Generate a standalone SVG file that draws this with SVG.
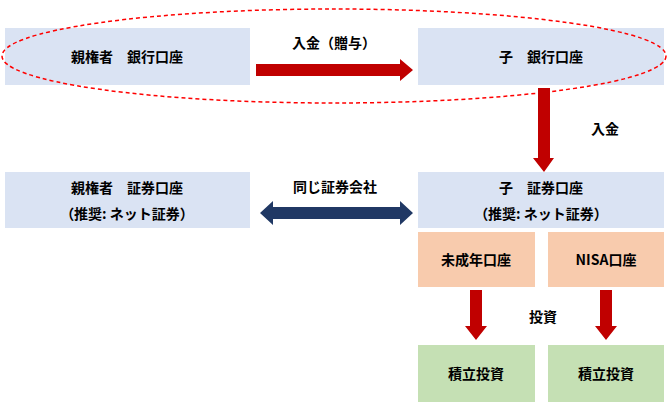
<svg xmlns="http://www.w3.org/2000/svg" width="670" height="407" viewBox="0 0 670 407">
<style>
text{font-family:"Noto Sans CJK JP","Noto Sans",sans-serif;font-size:14px;font-weight:bold;fill:#000;text-anchor:middle;dominant-baseline:central}
.b{fill:#DAE3F3}.o{fill:#F8CBAD}.g{fill:#C5E0B4}
.r{fill:#C00000}.n{fill:#203864}
</style>
<rect width="670" height="407" fill="#fff"/>
<g id="n1"><rect class="b" x="5" y="28" width="245" height="57"/><text x="127" y="56">親権者　銀行口座</text></g>
<g id="n2"><rect class="b" x="418" y="28" width="246" height="57"/><text x="541" y="56">子　銀行口座</text></g>
<g id="n3"><rect class="b" x="5" y="172" width="245" height="56"/><text x="127" y="187">親権者　証券口座</text><text x="127" y="213">（推奨: ネット証券）</text></g>
<g id="n4"><rect class="b" x="418" y="172" width="246" height="56"/><text x="541" y="187">子　証券口座</text><text x="541" y="213">（推奨: ネット証券）</text></g>
<g id="n5"><rect class="o" x="418" y="232" width="117" height="55"/><text x="476" y="259">未成年口座</text></g>
<g id="n6"><rect class="o" x="548" y="232" width="116" height="55"/><text x="606" y="259">NISA口座</text></g>
<g id="n7"><rect class="g" x="418" y="345" width="117" height="57"/><text x="476" y="373">積立投資</text></g>
<g id="n8"><rect class="g" x="548" y="345" width="116" height="57"/><text x="606" y="373">積立投資</text></g>
<g id="connectors">
<ellipse cx="334" cy="56" rx="332" ry="47" fill="none" stroke="#FF0000" stroke-width="1.5" stroke-dasharray="4,3"/>
<polygon class="r" points="256,64 400,64 400,59 413,70 400,81 400,76 256,76"/>
<polygon class="r" points="538,88 550,88 550,158 554,158 544,172 533,158 538,158"/>
<polygon class="n" points="260,213 273,201 273,207 400,207 400,201 413,213 400,225 400,219 273,219 273,225"/>
<polygon class="r" points="470,290 482,290 482,326 487,326 476,340 465,326 470,326"/>
<polygon class="r" points="600,290 612,290 612,326 617,326 606,340 595,326 600,326"/>
<text x="334" y="42">入金（贈与）</text>
<text x="605" y="128">入金</text>
<text x="335" y="186">同じ証券会社</text>
<text x="543" y="316">投資</text>
</g>
</svg>
